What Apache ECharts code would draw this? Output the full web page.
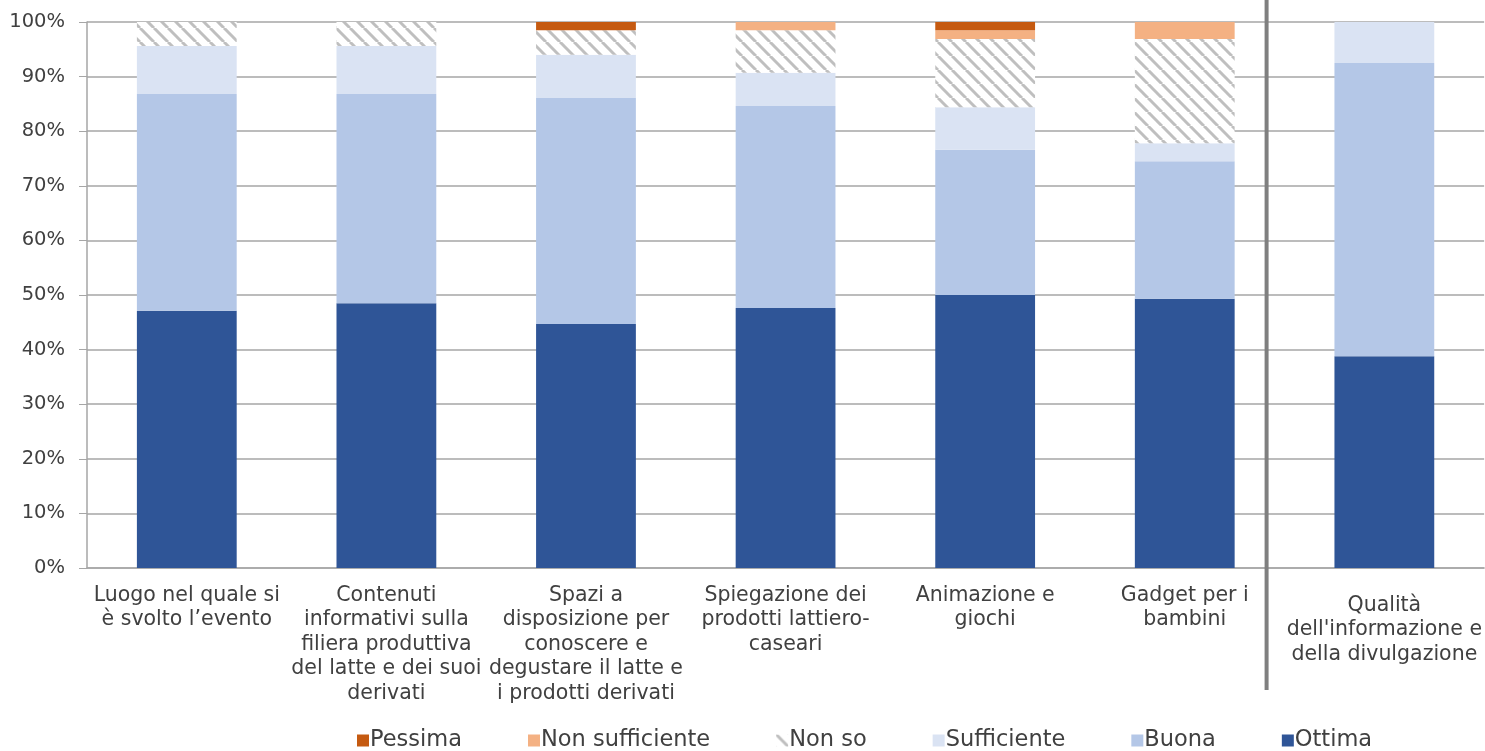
<!DOCTYPE html>
<html>
<head>
<meta charset="utf-8">
<script src="https://cdn.jsdelivr.net/npm/echarts@6/dist/echarts.min.js"></script>
<style>
    html, body { margin: 0; padding: 0; background: #fff; }
    #chart { width: 1485px; height: 751px; }
</style>
</head>
<body>
<div id="chart"></div>
<script>
var categories = [
    'Luogo nel quale si\nè svolto l\u2019evento',
    'Contenuti\ninformativi sulla\nfiliera produttiva\ndel latte e dei suoi\nderivati',
    'Spazi a\ndisposizione per\nconoscere e\ndegustare il latte e\ni prodotti derivati',
    'Spiegazione dei\nprodotti lattiero-\ncaseari',
    'Animazione e\ngiochi',
    'Gadget per i\nbambini',
    'Qualità\ndell\'informazione e\ndella divulgazione'
];
var ottima      = [47.1, 48.5, 44.7, 47.6, 50.0, 49.3, 38.8];
var buona       = [39.7, 38.3, 41.4, 37.0, 26.6, 25.2, 53.7];
var sufficiente = [8.8, 8.8, 7.9, 6.1, 7.8, 3.3, 7.5];
var nonSo       = [4.4, 4.4, 4.5, 7.8, 12.5, 19.1, null];
var nonSuff     = [null, null, null, 1.5, 1.6, 3.1, null];
var pessima     = [null, null, 1.5, null, 1.5, null, null];
var legendOrder = ['Pessima', 'Non sufficiente', 'Non so', 'Sufficiente', 'Buona', 'Ottima'];
var separatorAt = 5.91; // position of the grey divider, in category units

var textColor = '#404040';
var font = 'DejaVu Sans';

// diagonal hatch for "Non so"
function hatch() {
    var s = 14;
    var c = document.createElement('canvas');
    c.width = s; c.height = s;
    var ctx = c.getContext('2d');
    ctx.fillStyle = '#ffffff';
    ctx.fillRect(0, 0, s, s);
    ctx.strokeStyle = '#bfbfbf';
    ctx.lineWidth = 3;
    for (var k = -1; k <= 1; k++) {
        ctx.beginPath();
        ctx.moveTo(k * s, 0);
        ctx.lineTo(k * s + s, s);
        ctx.stroke();
    }
    return c;
}

function bar(name, data, color) {
    return {
        name: name,
        type: 'bar',
        stack: 'tot',
        barWidth: '50%',
        data: data,
        itemStyle: {color: color},
        emphasis: {disabled: true}
    };
}

var cats = categories.map(function (c, i) {
    return i === 6 ? {value: c, textStyle: {padding: [10, 0, 0, 0]}} : c;
});

var option = {
    animation: false,
    textStyle: {fontFamily: font, color: textColor},
    grid: {left: 87, right: 0, top: 22, bottom: 183},
    legend: {
        data: legendOrder,
        left: 352,
        top: 724,
        itemWidth: 12,
        itemHeight: 12,
        itemGap: 66,
        icon: 'rect',
        textStyle: {fontFamily: font, fontSize: 22.5, color: textColor, padding: [0, 0, 0, -4]}
    },
    xAxis: [{
        type: 'category',
        data: cats,
        axisLine: {lineStyle: {color: '#a6a6a6', width: 1.5}},
        axisTick: {length: 8, lineStyle: {color: '#a6a6a6'}},
        axisLabel: {
            interval: 0,
            margin: 15,
            fontSize: 20.5,
            lineHeight: 24.5,
            color: textColor,
            fontFamily: font
        }
    }, {
        type: 'value',
        min: 0,
        max: 7,
        show: false
    }],
    yAxis: {
        type: 'value',
        min: 0,
        max: 100,
        interval: 10,
        axisLine: {show: true, lineStyle: {color: '#a6a6a6', width: 1.5}},
        axisTick: {show: true, length: 8, lineStyle: {color: '#a6a6a6'}},
        splitLine: {lineStyle: {color: '#a6a6a6', width: 1.5}},
        axisLabel: {
            formatter: '{value}%',
            margin: 22,
            fontSize: 19.5,
            color: textColor,
            fontFamily: font
        }
    },
    series: [
        bar('Ottima', ottima, '#2f5597'),
        bar('Buona', buona, '#b4c7e7'),
        bar('Sufficiente', sufficiente, '#dae3f3'),
        bar('Non so', nonSo, {image: hatch(), repeat: 'repeat'}),
        bar('Non sufficiente', nonSuff, '#f4b183'),
        bar('Pessima', pessima, '#c55a11')
    ]
};

var chart = echarts.init(document.getElementById('chart'));
chart.setOption(option);

var sepX = chart.convertToPixel({xAxisIndex: 1}, separatorAt);
chart.setOption({
    graphic: [{
        type: 'rect',
        shape: {x: sepX - 2, y: 0, width: 4, height: 690},
        style: {fill: '#7f7f7f'},
        z: 10
    }]
});
</script>
</body>
</html>
